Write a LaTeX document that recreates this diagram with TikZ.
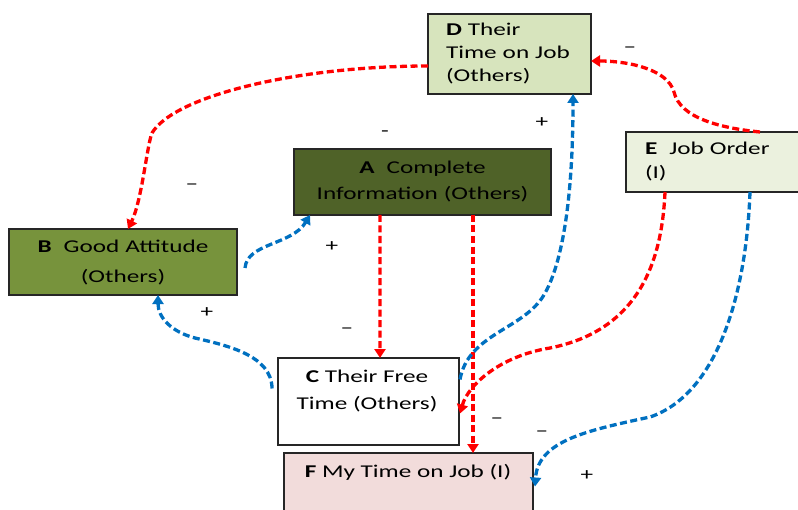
\documentclass[tikz,border=0pt]{standalone}
\usepackage{fontspec}
\setmainfont{Carlito}[FakeStretch=1.4]
\usetikzlibrary{arrows.meta,calc}
\definecolor{dfill}{HTML}{D7E4BD}
\definecolor{efill}{HTML}{EBF1DE}
\definecolor{afill}{HTML}{4F6228}
\definecolor{bfill}{HTML}{77933C}
\definecolor{ffill}{HTML}{F2DCDB}
\definecolor{boxline}{HTML}{262626}
\definecolor{arrred}{HTML}{FF0000}
\definecolor{arrblue}{HTML}{0070C0}
\begin{document}
\begin{tikzpicture}[x=1bp,y=-1bp,
  box/.style={draw=boxline,line width=1.8bp,inner sep=0pt,outer sep=0pt},
  conn/.style={line width=3.3bp,dash pattern=on 7bp off 3.5bp,-{Triangle[length=9bp,width=11bp]}},
  redarr/.style={conn,draw=arrred},
  bluearr/.style={conn,draw=arrblue},
  sign/.style={font=\fontsize{18bp}{18bp}\selectfont,inner sep=0pt}]
\useasboundingbox (0,0) rectangle (798,510);
\clip (0,0) rectangle (798,510);
% boxes
\node[box,fill=dfill,minimum width=163bp,minimum height=80bp,text width=127bp,align=left,
  font=\fontsize{18bp}{23bp}\selectfont] (D) at (509.5,54) {\textbf{D} Their\\Time on Job\\(Others)};
\node[box,fill=efill,minimum width=180bp,minimum height=60bp,text width=142bp,align=left,
  font=\fontsize{18bp}{24bp}\selectfont] (E) at (716,162) {\textbf{E}~ Job Order\\(I)};
\node[box,fill=afill,minimum width=257bp,minimum height=66bp,text width=240bp,align=center,
  font=\fontsize{18bp}{26bp}\selectfont] (A) at (422.5,182) {\textbf{A}~ Complete\\Information (Others)};
\node[box,fill=bfill,minimum width=228bp,minimum height=66bp,text width=210bp,align=center,
  font=\fontsize{18bp}{30bp}\selectfont] (B) at (123,262) {\textbf{B}~ Good Attitude\\(Others)};
\node[box,fill=white,minimum width=181bp,minimum height=87bp] (C) at (368.5,401.5) {};
\node[align=center,inner sep=0pt,font=\fontsize{18bp}{27bp}\selectfont] (Ct) at (367,391) {\textbf{C} Their Free\\Time (Others)};
\node[box,fill=ffill,minimum width=249bp,minimum height=77bp] (F) at (408.5,491.5) {};
\node[inner sep=0pt,font=\fontsize{18bp}{22bp}\selectfont] (Ft) at (408,472) {\textbf{F} My Time on Job (I)};
% connectors
\draw[redarr] ($(D.west)+(0,12)$) .. controls (300,66) and (175,95) .. (152,133)
  .. controls (147,145) and (142,200) .. ($(B.north)+(5,0)$);
\draw[redarr] ($(E.north)+(44,0)$) .. controls (720,128) and (680,118) .. (674,92)
  .. controls (668,70) and (630,61) .. ($(D.east)+(0,7)$);
\draw[redarr] ($(A.south)+(-42.5,0)$) -- ($(C.north)+(11.5,0)$);
\draw[redarr] ($(A.south)+(50.5,0)$) -- ($(F.north)+(64.5,0)$);
\draw[redarr] ($(E.south)+(-51,0)$) .. controls (662,260) and (640,330) .. (550,348)
  .. controls (500,356) and (468,385) .. ($(C.east)+(1,12)$);
\draw[bluearr] ($(C.east)+(1,-22)$) .. controls (468,335) and (520,330) .. (542,298)
  .. controls (562,268) and (573,200) .. ($(D.south)+(63.5,0)$);
\draw[bluearr] ($(C.west)+(-6,-13)$) .. controls (272,355) and (225,345) .. (195,338)
  .. controls (172,332) and (158,318) .. ($(B.south)+(35,0)$);
\draw[bluearr] ($(B.east)+(8,6)$) .. controls (247,243) and (292,245) .. ($(A.south)+(-112.5,0)$);
\draw[bluearr] ($(E.south)+(34,0)$) .. controls (746,300) and (715,395) .. (650,417)
  .. controls (590,430) and (538,440) .. ($(F.east)+(2,-5)$);
% signs
\node[sign] (s1) at (192,187) {–};
\node[sign] (s2) at (385,134) {-};
\node[sign] (s3) at (332,247) {+};
\node[sign] (s4) at (542,123) {+};
\node[sign] (s5) at (630,50) {–};
\node[sign] (s6) at (207,313) {+};
\node[sign] (s7) at (347,331) {–};
\node[sign] (s8) at (497,421) {–};
\node[sign] (s9) at (542,434) {–};
\node[sign] (s10) at (587,476) {+};
\end{tikzpicture}
\end{document}
